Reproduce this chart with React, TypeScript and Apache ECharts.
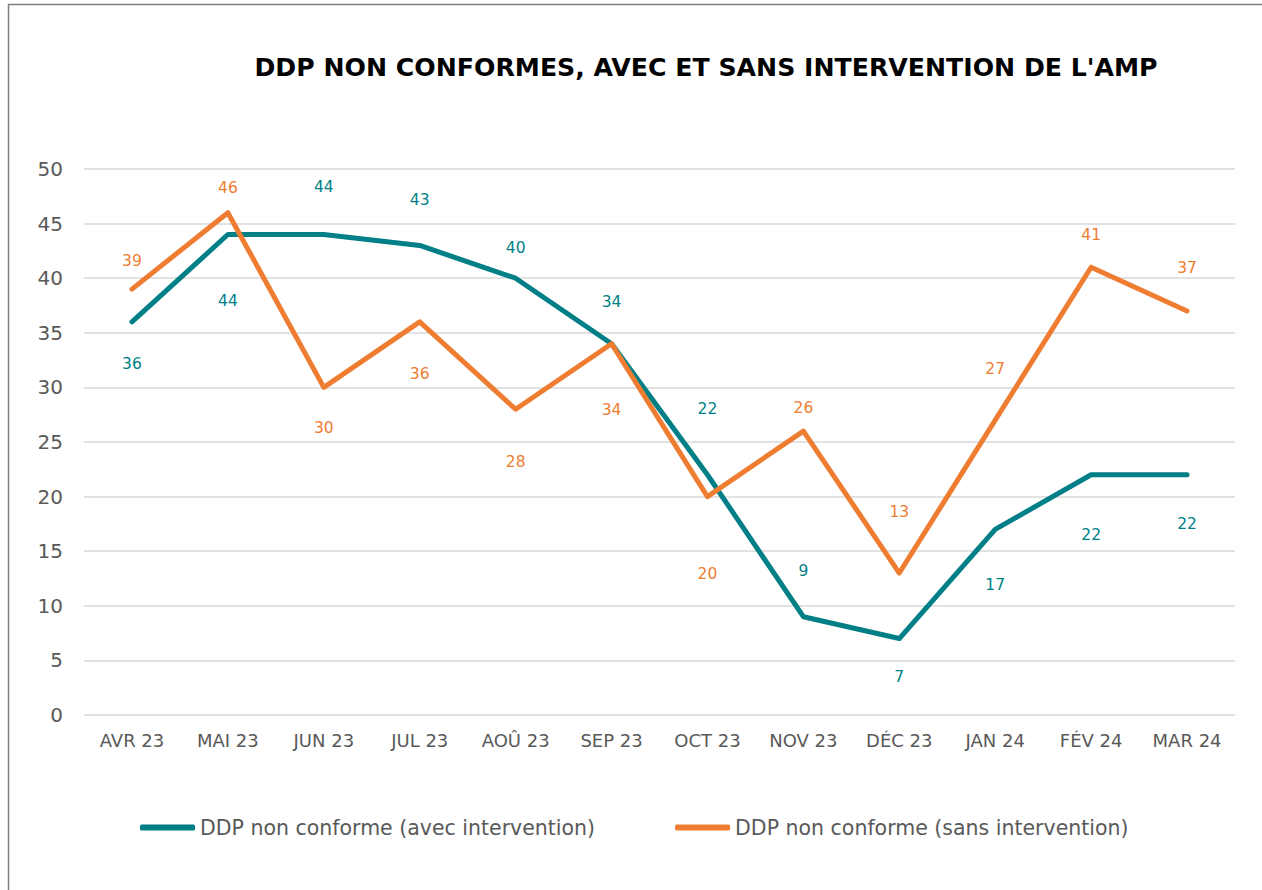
import React, { useEffect, useRef } from "react";
import * as echarts from "echarts";

const categories = ["AVR 23", "MAI 23", "JUN 23", "JUL 23", "AOÛ 23", "SEP 23", "OCT 23", "NOV 23", "DÉC 23", "JAN 24", "FÉV 24", "MAR 24"];
const avecIntervention = [36, 44, 44, 43, 40, 34, 22, 9, 7, 17, 22, 22];
const sansIntervention = [39, 46, 30, 36, 28, 34, 20, 26, 13, 27, 41, 37];
const avecLabelDy = [42, 66, -48, -45, -30, -42, -66, -46, 38, 56, 60, 49];
const sansLabelDy = [-28, -25, 41, 52, 53, 66, 77, -23, -61, -51, -32, -43];
const title = "DDP NON CONFORMES, AVEC ET SANS INTERVENTION DE L'AMP";
const nameAvec = "DDP non conforme (avec intervention)";
const nameSans = "DDP non conforme (sans intervention)";

const TEAL = "#007f87";
const ORANGE = "#ee7d31";
const FONT = "'DejaVu Sans', sans-serif";

function buildData(values: number[], dys: number[], color: string) {
  return values.map((v, i) => ({
    value: v,
    label: { show: true, position: "inside", offset: [0, dys[i]], color, fontSize: 15.5, fontFamily: FONT },
  }));
}

export default function App() {
  const ref = useRef<HTMLDivElement>(null);
  useEffect(() => {
    const chart = echarts.init(ref.current!, undefined, { renderer: "svg" });
    chart.setOption({
      animation: false,
      backgroundColor: "#ffffff",
      title: {
        text: title,
        left: 701,
        textAlign: "center",
        top: 50,
        textStyle: { fontFamily: FONT, fontWeight: "bold", fontSize: 25.2, color: "#000" },
      },
      graphic: [
        {
          type: "rect",
          shape: { x: 8.5, y: 4.5, width: 1400, height: 1000 },
          style: { fill: "none", stroke: "#7f7f7f", lineWidth: 1.5 },
          silent: true,
        },
      ],
      grid: { left: 84, right: 27, top: 169, bottom: 175 },
      legend: {
        left: 140,
        top: 817,
        padding: 0,
        itemWidth: 55,
        itemHeight: 6,
        itemGap: 80,
        icon: "roundRect",
        textStyle: { fontFamily: FONT, fontSize: 20.5, color: "#595959" },
        data: [nameAvec, nameSans],
      },
      xAxis: {
        type: "category",
        data: categories,
        boundaryGap: true,
        axisLine: { show: false },
        axisTick: { show: false },
        axisLabel: { color: "#595959", fontFamily: FONT, fontSize: 18, margin: 16 },
      },
      yAxis: {
        type: "value",
        min: 0,
        max: 50,
        interval: 5,
        axisLine: { show: false },
        axisTick: { show: false },
        axisLabel: { color: "#595959", fontFamily: FONT, fontSize: 20, margin: 21 },
        splitLine: { lineStyle: { color: "#d9d9d9", width: 1.5 } },
      },
      series: [
        {
          name: nameAvec,
          type: "line",
          data: buildData(avecIntervention, avecLabelDy, TEAL),
          symbol: "circle",
          symbolSize: 0.1,
          showSymbol: true,
          itemStyle: { color: TEAL },
          lineStyle: { color: TEAL, width: 5, cap: "round", join: "round" },
          z: 3,
        },
        {
          name: nameSans,
          type: "line",
          data: buildData(sansIntervention, sansLabelDy, ORANGE),
          symbol: "circle",
          symbolSize: 0.1,
          showSymbol: true,
          itemStyle: { color: ORANGE },
          lineStyle: { color: ORANGE, width: 5, cap: "round", join: "round" },
          z: 4,
        },
      ],
    });
    return () => chart.dispose();
  }, []);
  return <div ref={ref} style={{ position: "absolute", left: 0, top: 0, width: 1262, height: 890 }} />;
}
